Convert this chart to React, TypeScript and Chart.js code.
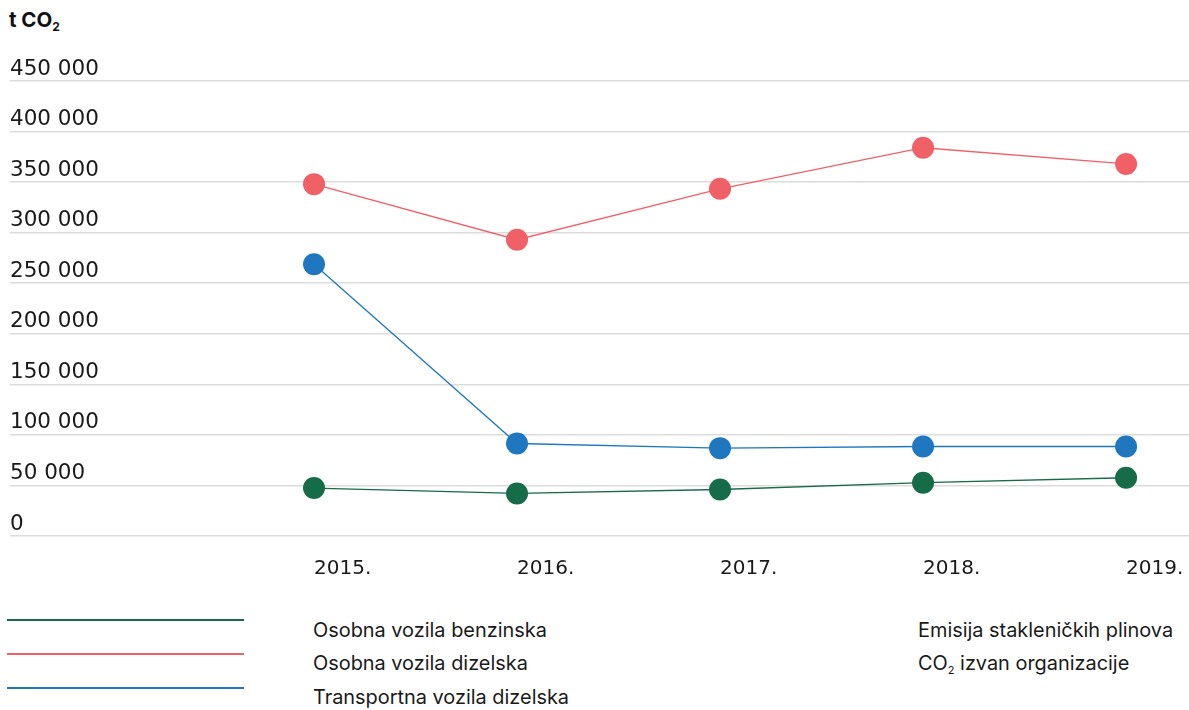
import React, { useEffect, useRef } from "react";
import { Chart, registerables } from "chart.js";

Chart.register(...registerables);

// Years on the horizontal axis
const years = [2015, 2016, 2017, 2018, 2019];

// Emissions in tonnes of CO2 per vehicle group
const benzinska = [47400, 42100, 46000, 52700, 57600];
const dizelska = [348000, 293000, 343400, 384000, 368000];
const transportna = [268800, 91500, 86900, 88500, 88500];

// Value axis ticks
const yTicks = [0, 50000, 100000, 150000, 200000, 250000, 300000, 350000, 400000, 450000];

const seriesNames = ["Osobna vozila benzinska", "Osobna vozila dizelska", "Transportna vozila dizelska"];
const seriesColors = ["#166b48", "#f06167", "#1f78bf"];
const seriesValues = [benzinska, dizelska, transportna];

const FONT = "Inter, 'Noto Sans', sans-serif";
const TICK_FONT = "'DejaVu Sans', Inter, sans-serif";

const fmt = (v: number) => String(v).replace(/\B(?=(\d{3})+(?!\d))/g, " ");

// Keep the scales from reserving extra room for overhanging labels
const noPadding = (s: any) => {
  s.paddingLeft = 0;
  s.paddingRight = 0;
  s.paddingTop = 0;
  s.paddingBottom = 0;
};

export default function App() {
  const ref = useRef<HTMLCanvasElement | null>(null);

  useEffect(() => {
    if (!ref.current) return;
    const chart = new Chart(ref.current, {
      type: "line",
      data: {
        datasets: seriesValues.map((vals, i) => ({
          label: seriesNames[i],
          data: vals.map((y, j) => ({ x: years[j], y })),
          borderColor: seriesColors[i],
          backgroundColor: seriesColors[i],
          pointBackgroundColor: seriesColors[i],
          pointBorderWidth: 0,
          pointRadius: 11,
          pointHoverRadius: 11,
          borderWidth: 1.3,
          tension: 0,
        })),
      },
      options: {
        animation: false,
        responsive: false,
        events: [],
        layout: { autoPadding: false, padding: { top: 81, left: 10, right: 0, bottom: 0 } },
        plugins: { legend: { display: false }, tooltip: { enabled: false } },
        scales: {
          x: {
            type: "linear",
            min: 2013.5025,
            max: 2019.31,
            afterBuildTicks: (s: any) => {
              s.ticks = years.map((v) => ({ value: v }));
            },
            afterFit: (s: any) => {
              s.height = 64;
              noPadding(s);
            },
            grid: { display: false, drawTicks: false },
            border: { display: false },
            ticks: {
              align: "start",
              maxRotation: 0,
              autoSkip: false,
              padding: 21,
              color: "#1a1a1a",
              font: { family: TICK_FONT, size: 20 },
              callback: (v: any) => `${v}.`,
            },
          },
          y: {
            min: 0,
            max: 450000,
            afterBuildTicks: (s: any) => {
              s.ticks = yTicks.map((v) => ({ value: v }));
            },
            afterFit: (s: any) => {
              s.width = 0;
              noPadding(s);
            },
            grid: { color: "#dcdcdc", lineWidth: 1.5, drawTicks: false },
            border: { display: false },
            ticks: {
              mirror: true,
              padding: 0,
              labelOffset: -12,
              color: "#1a1a1a",
              font: { family: TICK_FONT, size: 21.5 },
              callback: (v: any) => fmt(Number(v)),
            },
          },
        },
      },
    });
    return () => chart.destroy();
  }, []);

  const textStyle: React.CSSProperties = {
    position: "absolute",
    fontFamily: FONT,
    fontSize: 19.9,
    lineHeight: "20px",
    color: "#1a1a1a",
    whiteSpace: "nowrap",
  };
  const legendTops = [620, 654, 688];
  const textTops = [620, 653, 687];

  return (
    <div
      style={{
        position: "fixed",
        left: 0,
        top: 0,
        width: 1189,
        height: 710,
        background: "#fff",
        overflow: "hidden",
      }}
    >
      <div
        style={{
          position: "absolute",
          left: 9,
          top: 8,
          fontFamily: FONT,
          fontWeight: 700,
          fontSize: 20.5,
          lineHeight: "24px",
          color: "#111",
        }}
      >
        t CO<sub style={{ fontSize: 12, verticalAlign: "-4px", lineHeight: 0 }}>2</sub>
      </div>
      <canvas ref={ref} width={1189} height={600} style={{ position: "absolute", left: 0, top: 0, width: 1189, height: 600 }} />
      {seriesNames.map((name, i) => (
        <React.Fragment key={name}>
          <div
            style={{
              position: "absolute",
              left: 7,
              width: 237,
              top: legendTops[i] - 1,
              height: 1.5,
              backgroundColor: seriesColors[i],
            }}
          />
          <div style={{ ...textStyle, left: 313, top: textTops[i] }}>{name}</div>
        </React.Fragment>
      ))}
      <div style={{ ...textStyle, left: 918, top: textTops[0] }}>Emisija stakleničkih plinova</div>
      <div style={{ ...textStyle, left: 918, top: textTops[1] }}>
        CO<sub style={{ fontSize: 11, verticalAlign: "-4px", lineHeight: 0 }}>2</sub> izvan organizacije
      </div>
    </div>
  );
}
